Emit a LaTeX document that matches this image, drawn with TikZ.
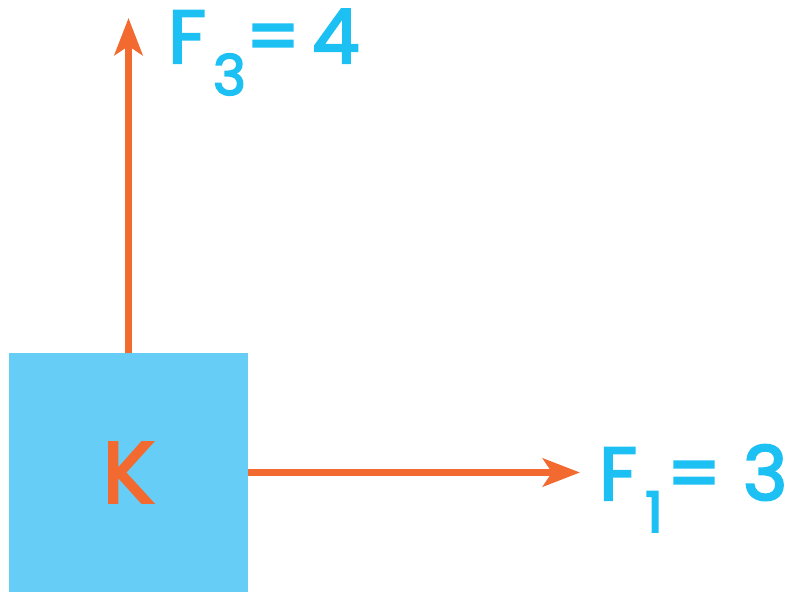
\documentclass[tikz,border=0pt]{standalone}
\usepackage{fontspec}
\setmainfont{Poppins}
\newfontfamily\medfont{Poppins}[FakeBold=3]
\usetikzlibrary{arrows.meta}
\definecolor{arrorange}{HTML}{F26A2F}
\definecolor{txtblue}{HTML}{1CC0F2}
\definecolor{boxblue}{HTML}{66CDF6}
\tikzset{
  force/.style={draw=arrorange, line width=7pt, -{Stealth[length=37pt,width=28pt,inset=9pt]}},
  flabel/.style={text=txtblue, inner sep=0pt, anchor=base west, font=\fontsize{75}{75}\selectfont\medfont}
}
\newcommand{\fsub}[1]{\raisebox{-32pt}{\fontsize{56}{56}\selectfont\medfont #1}}
\begin{document}
\begin{tikzpicture}[x=1pt,y=-1pt]
\useasboundingbox (0,0) rectangle (798,599);
\node[fill=boxblue, minimum size=239pt, inner sep=0pt, text=arrorange, font=\fontsize{86}{86}\selectfont\medfont] (K) at (128.5,472.5) {K};
\coordinate (t3) at (128.5,18);
\coordinate (t1) at (580,472.5);
\draw[force] (K.north) -- (t3);
\draw[force] (K.east) -- (t1);
\node[flabel] (L3) at (168,63) {F\hspace{7pt}\fsub{3}\hspace{0pt}=\hspace{12pt}4};
\node[flabel] (L1) at (599,500) {F\hspace{8pt}\fsub{1}\hspace{4pt}=\hspace{22pt}3};
\end{tikzpicture}
\end{document}
